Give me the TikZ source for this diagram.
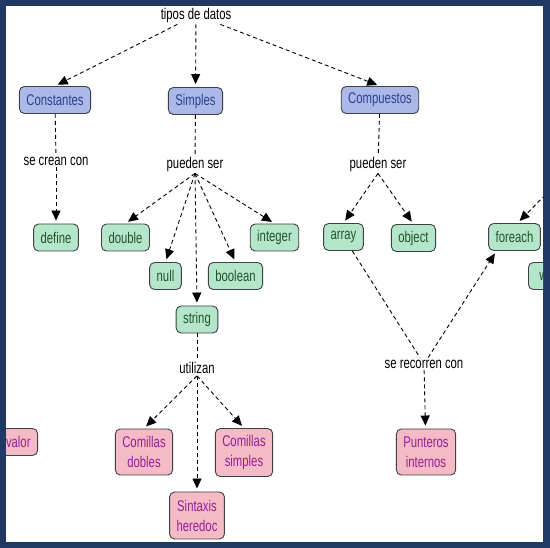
\documentclass[tikz,border=0pt]{standalone}
\usepackage{fontspec}
\setmainfont{Liberation Sans}[FakeStretch=0.73]
\usetikzlibrary{arrows.meta}

\definecolor{rahmen}{RGB}{31,56,100}
\definecolor{blaufill}{RGB}{170,185,232}
\definecolor{blautext}{RGB}{44,64,140}
\definecolor{gruenfill}{RGB}{180,230,204}
\definecolor{gruentext}{RGB}{30,86,40}
\definecolor{rosafill}{RGB}{244,186,198}
\definecolor{rosatext}{RGB}{150,30,150}

\begin{document}
\begin{tikzpicture}[x=1pt, y=-1pt, >={Triangle[length=10pt,width=9pt]},
		konzept/.style={draw=black!75, line width=0.9pt, rounded corners=5pt, minimum height=27pt, inner xsep=7pt, inner ysep=2pt, align=center, font=\fontsize{15.5}{20}\selectfont},
		blau/.style={konzept, fill=blaufill, text=blautext},
		gruen/.style={konzept, fill=gruenfill, text=gruentext},
		rosa/.style={konzept, fill=rosafill, text=rosatext},
		phrase/.style={inner sep=2pt, font=\fontsize{15.5}{18}\selectfont},
		kante/.style={dash pattern=on 4pt off 3pt, line width=0.9pt},
		pfeil/.style={kante, ->, shorten >=3pt}]
		
		% Rahmen
		\useasboundingbox (0,0) rectangle (550,548);
		\fill[rahmen] (0,0) rectangle (550,548);
		\fill[white] (6,6) rectangle (543,542);
		
		\begin{scope}
		\clip (6,6) rectangle (543,542);
		
		% Oberbegriff und Gruppen
		\node[phrase] (tipos) at (196,15) {tipos de datos};
		\node[blau] (const) at (55,100) {Constantes};
		\node[blau] (simp) at (195.5,101) {Simples};
		\node[blau] (comp) at (380,100) {Compuestos};
		
		% Verbindungswoerter
		\node[phrase] (crean) at (56,161) {se crean con};
		\node[phrase] (ps1) at (195,164) {pueden ser};
		\node[phrase] (ps2) at (378,164) {pueden ser};
		\node[phrase] (util) at (197,368) {utilizan};
		\node[phrase] (recorren) at (424,364) {se recorren con};
		
		% Datentypen
		\node[gruen] (define) at (56,237.5) {define};
		\node[gruen] (double) at (125.5,237.5) {double};
		\node[gruen] (integer) at (274.5,237.5) {integer};
		\node[gruen] (null) at (165.5,276) {null};
		\node[gruen] (boolean) at (235.5,276) {boolean};
		\node[gruen] (string) at (197,319.5) {string};
		\node[gruen] (array) at (343.5,237) {array};
		\node[gruen] (object) at (413.5,238) {object};
		\node[gruen] (foreach) at (514.5,237) {foreach};
		\node[gruen, anchor=west, minimum width=30pt] (w) at (528,276) {w};
		
		% Schreibweisen
		\node[rosa, minimum height=46pt] (dobles) at (144,452) {Comillas\\dobles};
		\node[rosa, minimum height=48pt] (simples) at (244,452.5) {Comillas\\simples};
		\node[rosa, minimum height=47pt] (heredoc) at (197,515.5) {Sintaxis\\heredoc};
		\node[rosa, minimum height=46pt] (punteros) at (426,452) {Punteros\\internos};
		\node[rosa, anchor=east] (valor) at (38,442) {valor};
		
		% Verbindungen
		\draw[pfeil] (tipos) -- (const.north);
		\draw[pfeil] (tipos) -- (simp);
		\draw[pfeil] (tipos) -- (comp.north);
		
		\draw[kante] (const) -- (crean);
		\draw[pfeil] (crean) -- (define);
		
		\draw[kante] (simp) -- (ps1);
		\draw[pfeil] (ps1.south) -- (double.north);
		\draw[pfeil] (ps1.south) -- (null.north);
		\draw[pfeil] (ps1.south) -- (string.north);
		\draw[pfeil] (ps1.south) -- (boolean.north);
		\draw[pfeil] (ps1.south) -- (integer.north);
		
		\draw[kante] (comp) -- (ps2);
		\draw[pfeil] (ps2.south) -- (array.north);
		\draw[pfeil] (ps2.south) -- (object.north);
		
		\draw[kante] (array) -- (recorren);
		\draw[pfeil] (recorren) -- ([xshift=-18pt]foreach.south);
		\draw[pfeil] (recorren) -- (punteros);
		\coordinate (rechts) at (570,170);
		\draw[pfeil] (rechts) -- ([xshift=3pt]foreach.north);
		
		\draw[kante] (string) -- (util);
		\draw[pfeil] (util.south) -- (dobles.north);
		\draw[pfeil] (util.south) -- (heredoc.north);
		\draw[pfeil] (util.south) -- (simples.north);
		\end{scope}
	\end{tikzpicture}
\end{document}
